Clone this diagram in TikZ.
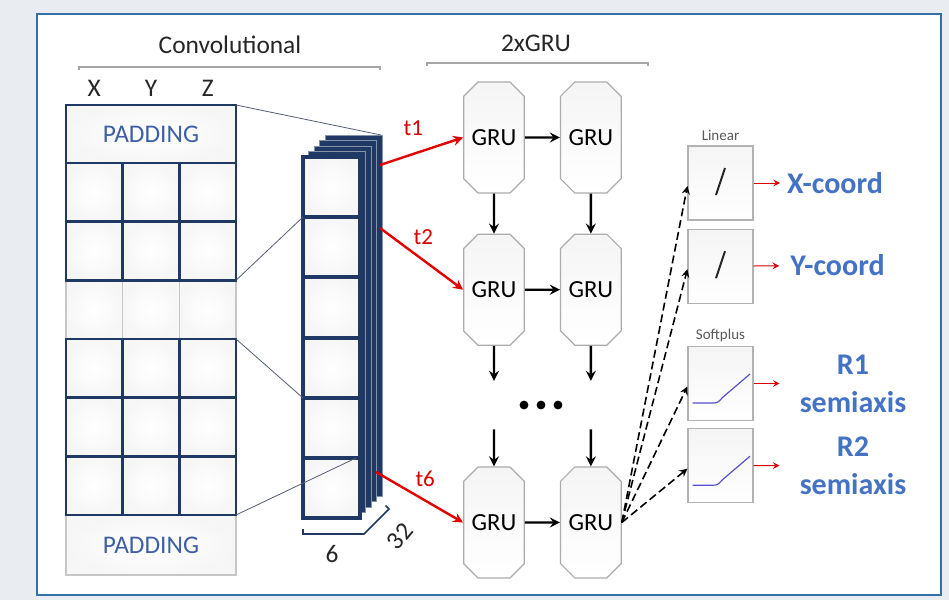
\documentclass[tikz,border=0pt]{standalone}
\usepackage{fontspec}
\setmainfont{Carlito}
\usepackage{xcolor}
\usetikzlibrary{shapes.misc,arrows,positioning,calc}

\definecolor{navy}{RGB}{31,56,100}
\definecolor{panelblue}{RGB}{52,112,168}
\definecolor{txtblue}{RGB}{68,114,196}
\definecolor{padblue}{RGB}{62,95,166}
\definecolor{bggray}{RGB}{233,236,240}
\definecolor{curveblue}{RGB}{90,80,210}

\begin{document}
\begin{tikzpicture}[
    x=0.5pt, y=-0.5pt,
    gru/.style={chamfered rectangle, chamfered rectangle xsep=4pt, draw=gray!65, line width=0.6pt, top color=gray!8, bottom color=white, minimum width=30pt, minimum height=55.5pt, inner sep=0pt, font=\fontsize{12.3}{14}\selectfont},
    outbox/.style={rectangle, draw=gray!60, line width=0.6pt, top color=gray!8, bottom color=white, minimum width=32.5pt, minimum height=37pt, inner sep=0pt},
    cellshade/.style={inner color=white, outer color=gray!7},
    gridnavy/.style={draw=navy, line width=1.4pt},
    gridgray/.style={draw=gray!45, line width=0.6pt},
    projline/.style={draw=navy!45!gray, line width=0.4pt},
    arrow/.style={->, >=stealth, line width=1.2pt},
    redarrow/.style={->, >=stealth, red!90!black, line width=1.2pt},
    outarrow/.style={->, >=stealth, red!85!black, line width=0.5pt},
    dasharrow/.style={->, >=stealth, dash pattern=on 4pt off 2pt, line width=0.8pt},
    tlab/.style={text=red!85!black, font=\fontsize{11.5}{13}\selectfont},
    toplab/.style={text=black!85, font=\fontsize{12.7}{15}\selectfont},
    padlab/.style={text=padblue, font=\fontsize{12.7}{15}\selectfont},
    smalllab/.style={text=gray!70!black, font=\fontsize{7.5}{9}\selectfont, inner sep=1pt},
    outlab/.style={text=txtblue, font=\bfseries\fontsize{15}{19}\selectfont, align=center}
]

% background and panel
\fill[bggray] (0,0) rectangle (949,600);
\useasboundingbox (0,0) rectangle (949,600);
\draw[panelblue, line width=1pt, fill=white] (37,14) rectangle (941,595);

% titles
\node[toplab] (convlab) at (230,45) {Convolutional};
\node[toplab] (grulab) at (536,43) {2xGRU};
\draw[gray!70, line width=0.6pt] (79,70) -- (79,67) -- (380,67) -- (380,70);
\draw[gray!70, line width=0.6pt] (427,66) -- (427,63) -- (648,63) -- (648,66);

\node[toplab] (xlab) at (94.3,88) {X};
\node[toplab] (ylab) at (151,88) {Y};
\node[toplab] (zlab) at (207.7,88) {Z};

% input grid
\shade[cellshade] (66,105) rectangle (236,163);
\shade[cellshade] (66,515) rectangle (236,575);
\foreach \i in {0,...,5}
  \foreach \j in {0,1,2}
    \shade[cellshade] ({66+56.67*\j},{163+58.67*\i}) rectangle ++(56.67,58.67);
\draw[gridgray] (66,280.3) rectangle (236,339);
\draw[gridgray] (122.7,280.3) -- (122.7,339) (179.3,280.3) -- (179.3,339);
\draw[gridgray] (66,515) rectangle (236,575);
\draw[gridnavy] (66,105) rectangle (236,163);
\foreach \t/\b in {163/280.3, 339/515} {
  \draw[gridnavy] (66,\t) rectangle (236,\b);
  \draw[gridnavy] (122.7,\t) -- (122.7,\b) (179.3,\t) -- (179.3,\b);
}
\foreach \y in {221.7,397.7,456.3}
  \draw[gridnavy] (66,\y) -- (236,\y);
\node[padlab] (padtop) at (151,134) {PADDING};
\node[padlab] (padbot) at (151,545) {PADDING};

% feature stack
\foreach \k in {4,3,2,1}
  \filldraw[fill=navy, draw=navy!55!white, line width=0.3pt] ({303+5.5*\k},{157-5.5*\k}) rectangle ++(57,361);
\foreach \r in {0,...,5} {
  \shade[cellshade] (303,{157+60.17*\r}) rectangle ++(57,60.17);
  \draw[gridnavy, line width=2pt] (303,{157+60.17*\r}) rectangle ++(57,60.17);
}

% projection lines
\draw[projline] (236,105) -- (381,135);
\draw[projline] (236,280.3) -- (303,217);
\draw[projline] (236,339) -- (303,398);
\draw[projline] (236,515) -- (356,458);

% dimensions
\draw[navy, line width=0.8pt] (303,529) -- (303,534) -- (364,534) -- (389,509) -- (385.5,505.5);
\node[toplab] (dimsix) at (332,554) {6};
\node[toplab, rotate=50, inner sep=1pt] (dimdepth) at (400,536) {32};

% GRU grid
\node[gru] (g11) at (494,137.5) {GRU};
\node[gru, right=17.5pt of g11] (g12) {GRU};
\node[gru, below=20pt of g11] (g21) {GRU};
\node[gru, right=17.5pt of g21] (g22) {GRU};
\node[gru] (g31) at (494,522.5) {GRU};
\node[gru, right=17.5pt of g31] (g32) {GRU};

\coordinate[below=17.5pt of g21] (d1);
\coordinate[below=17.5pt of g22] (d2);
\coordinate[above=18.5pt of g31] (u1);
\coordinate[above=18.5pt of g32] (u2);

\draw[arrow] (g11) -- (g12);
\draw[arrow] (g21) -- (g22);
\draw[arrow] (g31) -- (g32);
\draw[arrow] (g11) -- (g21);
\draw[arrow] (g12) -- (g22);
\draw[arrow] (g21) -- (d1);
\draw[arrow] (g22) -- (d2);
\draw[arrow] (u1) -- (g31);
\draw[arrow] (u2) -- (g32);

\foreach \x in {524,541,558}
  \fill (\x,405) circle (2.2pt);

% inputs per time step
\coordinate (s1) at (380,165);
\coordinate (s2) at (380,228);
\coordinate (s6) at (376,472);
\draw[redarrow] (s1) -- node[tlab, pos=.4, above=5pt] (t1lab) {t1} (g11.west);
\draw[redarrow] (s2) -- node[tlab, pos=.4, above=0pt, xshift=5pt] (t2lab) {t2} (g21.west);
\draw[redarrow] (s6) -- node[tlab, pos=.45, above=0pt, xshift=5pt] (t6lab) {t6} (g31.west);

% output heads
\node[outbox] (lin1) at (720.5,183) {};
\node[outbox, below=4pt of lin1] (lin2) {};
\node[outbox] (sp1) at (720.5,383.5) {};
\node[outbox, below=3.5pt of sp1] (sp2) {};
\node[smalllab, above=1pt of lin1] (linlab) {Linear};
\node[smalllab, above=1pt of sp1] (splab) {Softplus};

\foreach \b in {lin1,lin2}
  \draw[line width=1pt, black!85] ($(\b)+(-4.5,12)$) -- ($(\b)+(4.5,-15)$);
\foreach \b in {sp1,sp2}
  \draw[curveblue, line width=0.6pt] ($(\b)+(-28,19.5)$) -- ($(\b)+(-9,19.5)$) .. controls ($(\b)+(-3,19.5)$) .. ($(\b)+(2,14)$) -- ($(\b)+(29.5,-9.5)$);

\foreach \b in {lin1,lin2,sp1,sp2}
  \draw[dasharrow] (g32.east) -- ($(\b.west)+(0,3)$);

\node[outlab] (xout) at (835,183) {X-coord};
\node[outlab] (yout) at (837.5,265.5) {Y-coord};
\node[outlab] (r1out) at (853,383.5) {R1\\semiaxis};
\node[outlab] (r2out) at (853,465.5) {R2\\semiaxis};

\draw[outarrow] (lin1) -- (xout);
\draw[outarrow, shorten >=2pt] (lin2) -- (yout);
\draw[outarrow, shorten >=6.5pt] (sp1) -- (r1out);
\draw[outarrow, shorten >=6.5pt] (sp2) -- (r2out);

\end{tikzpicture}
\end{document}
